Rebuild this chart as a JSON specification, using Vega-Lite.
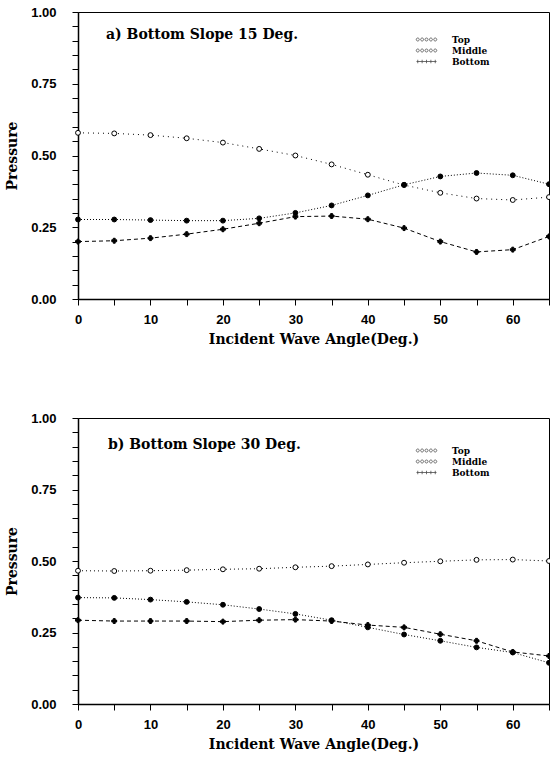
{
  "$schema": "https://vega.github.io/schema/vega-lite/v6.json",
  "padding": {"left": 5, "top": 5, "right": 0, "bottom": 0},
  "background": "white",
  "spacing": 64,
  "resolve": {"scale": {"shape": "independent"}, "legend": {"shape": "independent"}},
  "config": {
    "view": {"stroke": "black", "strokeWidth": 1},
    "axis": {
      "domainColor": "black", "domainWidth": 1.5, "tickColor": "black", "tickSize": 6, "tickWidth": 1,
      "labelColor": "black", "titleColor": "black", "grid": false,
      "labelFont": "Liberation Sans", "labelFontWeight": "bold", "labelFontSize": 13,
      "titleFont": "DejaVu Serif", "titleFontWeight": "bold", "titleFontSize": 14
    },
    "legend": {
      "orient": "none", "title": null, "padding": 0, "rowPadding": 0,
      "labelFont": "DejaVu Serif", "labelFontSize": 9, "labelFontWeight": "bold", "labelColor": "black",
      "symbolSize": 100, "labelOffset": 20, "symbolStrokeColor": "black", "symbolStrokeWidth": 0.8
    }
  },
  "datasets": {
    "pts": [
      {"panel": "a", "series": "Top", "angle": 0, "p": 0.579},
      {"panel": "a", "series": "Top", "angle": 5, "p": 0.577},
      {"panel": "a", "series": "Top", "angle": 10, "p": 0.571},
      {"panel": "a", "series": "Top", "angle": 15, "p": 0.56},
      {"panel": "a", "series": "Top", "angle": 20, "p": 0.545},
      {"panel": "a", "series": "Top", "angle": 25, "p": 0.523},
      {"panel": "a", "series": "Top", "angle": 30, "p": 0.5},
      {"panel": "a", "series": "Top", "angle": 35, "p": 0.469},
      {"panel": "a", "series": "Top", "angle": 40, "p": 0.433},
      {"panel": "a", "series": "Top", "angle": 45, "p": 0.397},
      {"panel": "a", "series": "Top", "angle": 50, "p": 0.37},
      {"panel": "a", "series": "Top", "angle": 55, "p": 0.35},
      {"panel": "a", "series": "Top", "angle": 60, "p": 0.345},
      {"panel": "a", "series": "Top", "angle": 65, "p": 0.355},
      {"panel": "a", "series": "Middle", "angle": 0, "p": 0.277},
      {"panel": "a", "series": "Middle", "angle": 5, "p": 0.277},
      {"panel": "a", "series": "Middle", "angle": 10, "p": 0.275},
      {"panel": "a", "series": "Middle", "angle": 15, "p": 0.273},
      {"panel": "a", "series": "Middle", "angle": 20, "p": 0.273},
      {"panel": "a", "series": "Middle", "angle": 25, "p": 0.281},
      {"panel": "a", "series": "Middle", "angle": 30, "p": 0.3},
      {"panel": "a", "series": "Middle", "angle": 35, "p": 0.326},
      {"panel": "a", "series": "Middle", "angle": 40, "p": 0.361},
      {"panel": "a", "series": "Middle", "angle": 45, "p": 0.398},
      {"panel": "a", "series": "Middle", "angle": 50, "p": 0.427},
      {"panel": "a", "series": "Middle", "angle": 55, "p": 0.439},
      {"panel": "a", "series": "Middle", "angle": 60, "p": 0.431},
      {"panel": "a", "series": "Middle", "angle": 65, "p": 0.4},
      {"panel": "a", "series": "Bottom", "angle": 0, "p": 0.2},
      {"panel": "a", "series": "Bottom", "angle": 5, "p": 0.203},
      {"panel": "a", "series": "Bottom", "angle": 10, "p": 0.212},
      {"panel": "a", "series": "Bottom", "angle": 15, "p": 0.226},
      {"panel": "a", "series": "Bottom", "angle": 20, "p": 0.243},
      {"panel": "a", "series": "Bottom", "angle": 25, "p": 0.264},
      {"panel": "a", "series": "Bottom", "angle": 30, "p": 0.287},
      {"panel": "a", "series": "Bottom", "angle": 35, "p": 0.289},
      {"panel": "a", "series": "Bottom", "angle": 40, "p": 0.278},
      {"panel": "a", "series": "Bottom", "angle": 45, "p": 0.247},
      {"panel": "a", "series": "Bottom", "angle": 50, "p": 0.2},
      {"panel": "a", "series": "Bottom", "angle": 55, "p": 0.164},
      {"panel": "a", "series": "Bottom", "angle": 60, "p": 0.172},
      {"panel": "a", "series": "Bottom", "angle": 65, "p": 0.218},
      {"panel": "b", "series": "Top", "angle": 0, "p": 0.466},
      {"panel": "b", "series": "Top", "angle": 5, "p": 0.465},
      {"panel": "b", "series": "Top", "angle": 10, "p": 0.466},
      {"panel": "b", "series": "Top", "angle": 15, "p": 0.468},
      {"panel": "b", "series": "Top", "angle": 20, "p": 0.471},
      {"panel": "b", "series": "Top", "angle": 25, "p": 0.473},
      {"panel": "b", "series": "Top", "angle": 30, "p": 0.478},
      {"panel": "b", "series": "Top", "angle": 35, "p": 0.482},
      {"panel": "b", "series": "Top", "angle": 40, "p": 0.488},
      {"panel": "b", "series": "Top", "angle": 45, "p": 0.494},
      {"panel": "b", "series": "Top", "angle": 50, "p": 0.499},
      {"panel": "b", "series": "Top", "angle": 55, "p": 0.504},
      {"panel": "b", "series": "Top", "angle": 60, "p": 0.505},
      {"panel": "b", "series": "Top", "angle": 65, "p": 0.5},
      {"panel": "b", "series": "Middle", "angle": 0, "p": 0.372},
      {"panel": "b", "series": "Middle", "angle": 5, "p": 0.371},
      {"panel": "b", "series": "Middle", "angle": 10, "p": 0.365},
      {"panel": "b", "series": "Middle", "angle": 15, "p": 0.357},
      {"panel": "b", "series": "Middle", "angle": 20, "p": 0.347},
      {"panel": "b", "series": "Middle", "angle": 25, "p": 0.332},
      {"panel": "b", "series": "Middle", "angle": 30, "p": 0.315},
      {"panel": "b", "series": "Middle", "angle": 35, "p": 0.293},
      {"panel": "b", "series": "Middle", "angle": 40, "p": 0.268},
      {"panel": "b", "series": "Middle", "angle": 45, "p": 0.243},
      {"panel": "b", "series": "Middle", "angle": 50, "p": 0.221},
      {"panel": "b", "series": "Middle", "angle": 55, "p": 0.198},
      {"panel": "b", "series": "Middle", "angle": 60, "p": 0.18},
      {"panel": "b", "series": "Middle", "angle": 65, "p": 0.144},
      {"panel": "b", "series": "Bottom", "angle": 0, "p": 0.293},
      {"panel": "b", "series": "Bottom", "angle": 5, "p": 0.29},
      {"panel": "b", "series": "Bottom", "angle": 10, "p": 0.29},
      {"panel": "b", "series": "Bottom", "angle": 15, "p": 0.29},
      {"panel": "b", "series": "Bottom", "angle": 20, "p": 0.288},
      {"panel": "b", "series": "Bottom", "angle": 25, "p": 0.293},
      {"panel": "b", "series": "Bottom", "angle": 30, "p": 0.295},
      {"panel": "b", "series": "Bottom", "angle": 35, "p": 0.29},
      {"panel": "b", "series": "Bottom", "angle": 40, "p": 0.276},
      {"panel": "b", "series": "Bottom", "angle": 45, "p": 0.268},
      {"panel": "b", "series": "Bottom", "angle": 50, "p": 0.244},
      {"panel": "b", "series": "Bottom", "angle": 55, "p": 0.221},
      {"panel": "b", "series": "Bottom", "angle": 60, "p": 0.182},
      {"panel": "b", "series": "Bottom", "angle": 65, "p": 0.168}
    ]
  },
  "vconcat": [
    {
      "width": 471, "height": 287,
      "title": {"text": "a) Bottom Slope 15 Deg.", "anchor": "start", "frame": "group", "offset": 0, "dx": 28, "dy": 43, "baseline": "middle", "font": "DejaVu Serif", "fontSize": 14, "fontWeight": "bold", "color": "black"},
      "data": {"name": "pts"},
      "transform": [{"filter": "datum.panel === 'a'"}],
      "resolve": {"scale": {"shape": "independent"}, "legend": {"shape": "independent"}},
      "encoding": {
        "x": {"field": "angle", "type": "quantitative", "scale": {"domain": [0, 65], "nice": false},
          "axis": {"values": [0,5,10,15,20,25,30,35,40,45,50,55,60,65], "labelExpr": "datum.value % 10 === 0 ? datum.label : ''", "title": "Incident Wave Angle(Deg.)", "labelPadding": 8, "titlePadding": 6, "labelFlush": false, "labelOverlap": false}},
        "y": {"field": "p", "type": "quantitative", "scale": {"domain": [0, 1], "nice": false},
          "axis": {"values": [0,0.05,0.1,0.15,0.2,0.25,0.3,0.35,0.4,0.45,0.5,0.55,0.6,0.65,0.7,0.75,0.8,0.85,0.9,0.95,1], "labelExpr": "abs(datum.value*4 - round(datum.value*4)) < 0.001 ? format(datum.value, '.2f') : ''", "title": "Pressure", "labelPadding": 16, "titlePadding": 11, "labelFlush": false, "labelOverlap": false}}
      },
      "layer": [
        {"mark": {"type": "line", "color": "black", "strokeWidth": 1},
          "encoding": {"detail": {"field": "series", "type": "nominal"},
            "strokeDash": {"condition": [{"test": "datum.series === 'Top'", "value": [1, 4]}, {"test": "datum.series === 'Middle'", "value": [1, 2]}], "value": [4, 3]}}},
        {"mark": {"type": "point", "stroke": "black", "strokeWidth": 1, "opacity": 1, "size": 24},
          "encoding": {
            "shape": {"field": "series", "type": "nominal", "scale": {"domain": ["Top", "Middle", "Bottom"], "range": ["circle", "circle", "cross"]}, "legend": null},
            "fill": {"condition": {"test": "datum.series === 'Top'", "value": "white"}, "value": "black"}
          }},
        {"transform": [{"filter": "false"}],
          "mark": {"type": "point", "filled": false, "color": "black", "strokeWidth": 0.8},
          "encoding": {
            "shape": {"field": "series", "type": "nominal",
              "scale": {"domain": ["Top", "Middle", "Bottom"], "range": [
                "M-2.05,0a0.3,0.3 0 1,0 0.6,0a0.3,0.3 0 1,0 -0.6,0M-1.175,0a0.3,0.3 0 1,0 0.6,0a0.3,0.3 0 1,0 -0.6,0M-0.3,0a0.3,0.3 0 1,0 0.6,0a0.3,0.3 0 1,0 -0.6,0M0.575,0a0.3,0.3 0 1,0 0.6,0a0.3,0.3 0 1,0 -0.6,0M1.45,0a0.3,0.3 0 1,0 0.6,0a0.3,0.3 0 1,0 -0.6,0",
                "M-2.05,0a0.3,0.3 0 1,0 0.6,0a0.3,0.3 0 1,0 -0.6,0M-1.175,0a0.3,0.3 0 1,0 0.6,0a0.3,0.3 0 1,0 -0.6,0M-0.3,0a0.3,0.3 0 1,0 0.6,0a0.3,0.3 0 1,0 -0.6,0M0.575,0a0.3,0.3 0 1,0 0.6,0a0.3,0.3 0 1,0 -0.6,0M1.45,0a0.3,0.3 0 1,0 0.6,0a0.3,0.3 0 1,0 -0.6,0",
                "M-2,0L2,0M-1.75,-0.35L-1.75,0.35M-0.875,-0.35L-0.875,0.35M0,-0.35L0,0.35M0.875,-0.35L0.875,0.35M1.75,-0.35L1.75,0.35"]},
              "legend": {"legendX": 343, "legendY": 22}}
          }}
      ]
    },
    {
      "width": 471, "height": 286,
      "title": {"text": "b) Bottom Slope 30 Deg.", "anchor": "start", "frame": "group", "offset": 0, "dx": 30, "dy": 47, "baseline": "middle", "font": "DejaVu Serif", "fontSize": 14, "fontWeight": "bold", "color": "black"},
      "data": {"name": "pts"},
      "transform": [{"filter": "datum.panel === 'b'"}],
      "resolve": {"scale": {"shape": "independent"}, "legend": {"shape": "independent"}},
      "encoding": {
        "x": {"field": "angle", "type": "quantitative", "scale": {"domain": [0, 65], "nice": false},
          "axis": {"values": [0,5,10,15,20,25,30,35,40,45,50,55,60,65], "labelExpr": "datum.value % 10 === 0 ? datum.label : ''", "title": "Incident Wave Angle(Deg.)", "labelPadding": 8, "titlePadding": 6, "labelFlush": false, "labelOverlap": false}},
        "y": {"field": "p", "type": "quantitative", "scale": {"domain": [0, 1], "nice": false},
          "axis": {"values": [0,0.05,0.1,0.15,0.2,0.25,0.3,0.35,0.4,0.45,0.5,0.55,0.6,0.65,0.7,0.75,0.8,0.85,0.9,0.95,1], "labelExpr": "abs(datum.value*4 - round(datum.value*4)) < 0.001 ? format(datum.value, '.2f') : ''", "title": "Pressure", "labelPadding": 16, "titlePadding": 11, "labelFlush": false, "labelOverlap": false}}
      },
      "layer": [
        {"mark": {"type": "line", "color": "black", "strokeWidth": 1},
          "encoding": {"detail": {"field": "series", "type": "nominal"},
            "strokeDash": {"condition": [{"test": "datum.series === 'Top'", "value": [1, 3]}, {"test": "datum.series === 'Middle'", "value": [1, 2]}], "value": [4, 3]}}},
        {"mark": {"type": "point", "stroke": "black", "strokeWidth": 1, "opacity": 1, "size": 24},
          "encoding": {
            "shape": {"field": "series", "type": "nominal", "scale": {"domain": ["Top", "Middle", "Bottom"], "range": ["circle", "circle", "cross"]}, "legend": null},
            "fill": {"condition": {"test": "datum.series === 'Top'", "value": "white"}, "value": "black"}
          }},
        {"transform": [{"filter": "false"}],
          "mark": {"type": "point", "filled": false, "color": "black", "strokeWidth": 0.8},
          "encoding": {
            "shape": {"field": "series", "type": "nominal",
              "scale": {"domain": ["Top", "Middle", "Bottom"], "range": [
                "M-2.05,0a0.3,0.3 0 1,0 0.6,0a0.3,0.3 0 1,0 -0.6,0M-1.175,0a0.3,0.3 0 1,0 0.6,0a0.3,0.3 0 1,0 -0.6,0M-0.3,0a0.3,0.3 0 1,0 0.6,0a0.3,0.3 0 1,0 -0.6,0M0.575,0a0.3,0.3 0 1,0 0.6,0a0.3,0.3 0 1,0 -0.6,0M1.45,0a0.3,0.3 0 1,0 0.6,0a0.3,0.3 0 1,0 -0.6,0",
                "M-2.05,0a0.3,0.3 0 1,0 0.6,0a0.3,0.3 0 1,0 -0.6,0M-1.175,0a0.3,0.3 0 1,0 0.6,0a0.3,0.3 0 1,0 -0.6,0M-0.3,0a0.3,0.3 0 1,0 0.6,0a0.3,0.3 0 1,0 -0.6,0M0.575,0a0.3,0.3 0 1,0 0.6,0a0.3,0.3 0 1,0 -0.6,0M1.45,0a0.3,0.3 0 1,0 0.6,0a0.3,0.3 0 1,0 -0.6,0",
                "M-2,0L2,0M-1.75,-0.35L-1.75,0.35M-0.875,-0.35L-0.875,0.35M0,-0.35L0,0.35M0.875,-0.35L0.875,0.35M1.75,-0.35L1.75,0.35"]},
              "legend": {"legendX": 343, "legendY": 27}}
          }}
      ]
    }
  ]
}
